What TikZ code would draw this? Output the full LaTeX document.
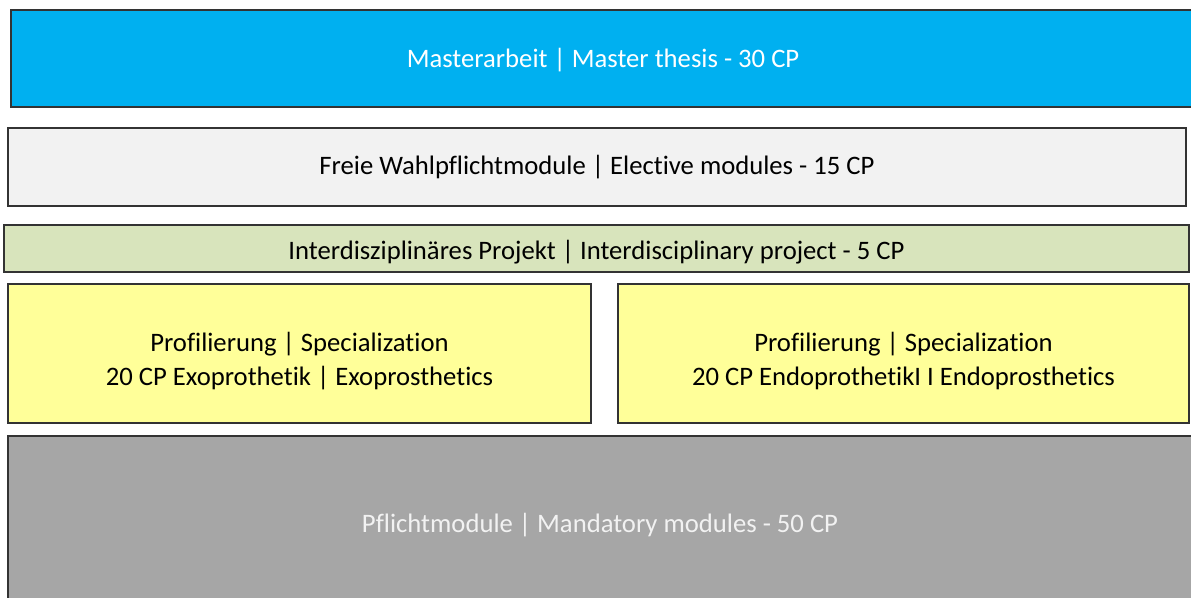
\documentclass[tikz,border=0pt]{standalone}
\usepackage{xcolor}
\usepackage{fontspec}
\setmainfont[Ligatures=NoCommon]{Carlito}
\usepackage{tikz}

\definecolor{thesisblue}{HTML}{00B0F0}
\definecolor{electivegrey}{HTML}{F2F2F2}
\definecolor{projectgreen}{HTML}{D8E4BC}
\definecolor{profileyellow}{HTML}{FFFF99}
\definecolor{mandatorygrey}{HTML}{A6A6A6}

\tikzset{
  layer/.style={draw=black!80, line width=0.9pt, rectangle, inner sep=0pt,
    align=center, text depth=0pt, font=\fontsize{20}{26}\selectfont},
}

\begin{document}
\begin{tikzpicture}[x=0.75pt, y=-0.75pt]
    \useasboundingbox (0,0) rectangle (1191,598);
    \clip (0,0) rectangle (1191,598);

    \node[layer, fill=thesisblue, text=white, text height=14.1pt, minimum width=1184*0.75pt, minimum height=97*0.75pt] (thesis) at (603,58.5) {Masterarbeit | Master thesis - 30 CP};
    \node[layer, fill=electivegrey, text height=11.1pt, minimum width=1178*0.75pt, minimum height=78*0.75pt] (elective) at (597,167) {Freie Wahlpflichtmodule | Elective modules - 15 CP};
    \node[layer, fill=projectgreen, text height=16.4pt, minimum width=1185*0.75pt, minimum height=47*0.75pt] (project) at (596.5,248.5) {Interdisziplinäres Projekt | Interdisciplinary project - 5 CP};
    \node[layer, fill=profileyellow, text height=48.7pt, minimum width=583*0.75pt, minimum height=139*0.75pt] (exo) at (299.5,353.5) {Profilierung | Specialization\\20 CP Exoprothetik | Exoprosthetics};
    \node[layer, fill=profileyellow, text height=48.7pt, minimum width=571*0.75pt, minimum height=139*0.75pt] (endo) at (903.5,353.5) {Profilierung | Specialization\\20 CP EndoprothetikI I Endoprosthetics};
    \node[layer, fill=mandatorygrey, text=electivegrey, text height=12.6pt, minimum width=1184*0.75pt, minimum height=176*0.75pt] (mandatory) at (600,524) {Pflichtmodule | Mandatory modules - 50 CP};
\end{tikzpicture}
\end{document}
